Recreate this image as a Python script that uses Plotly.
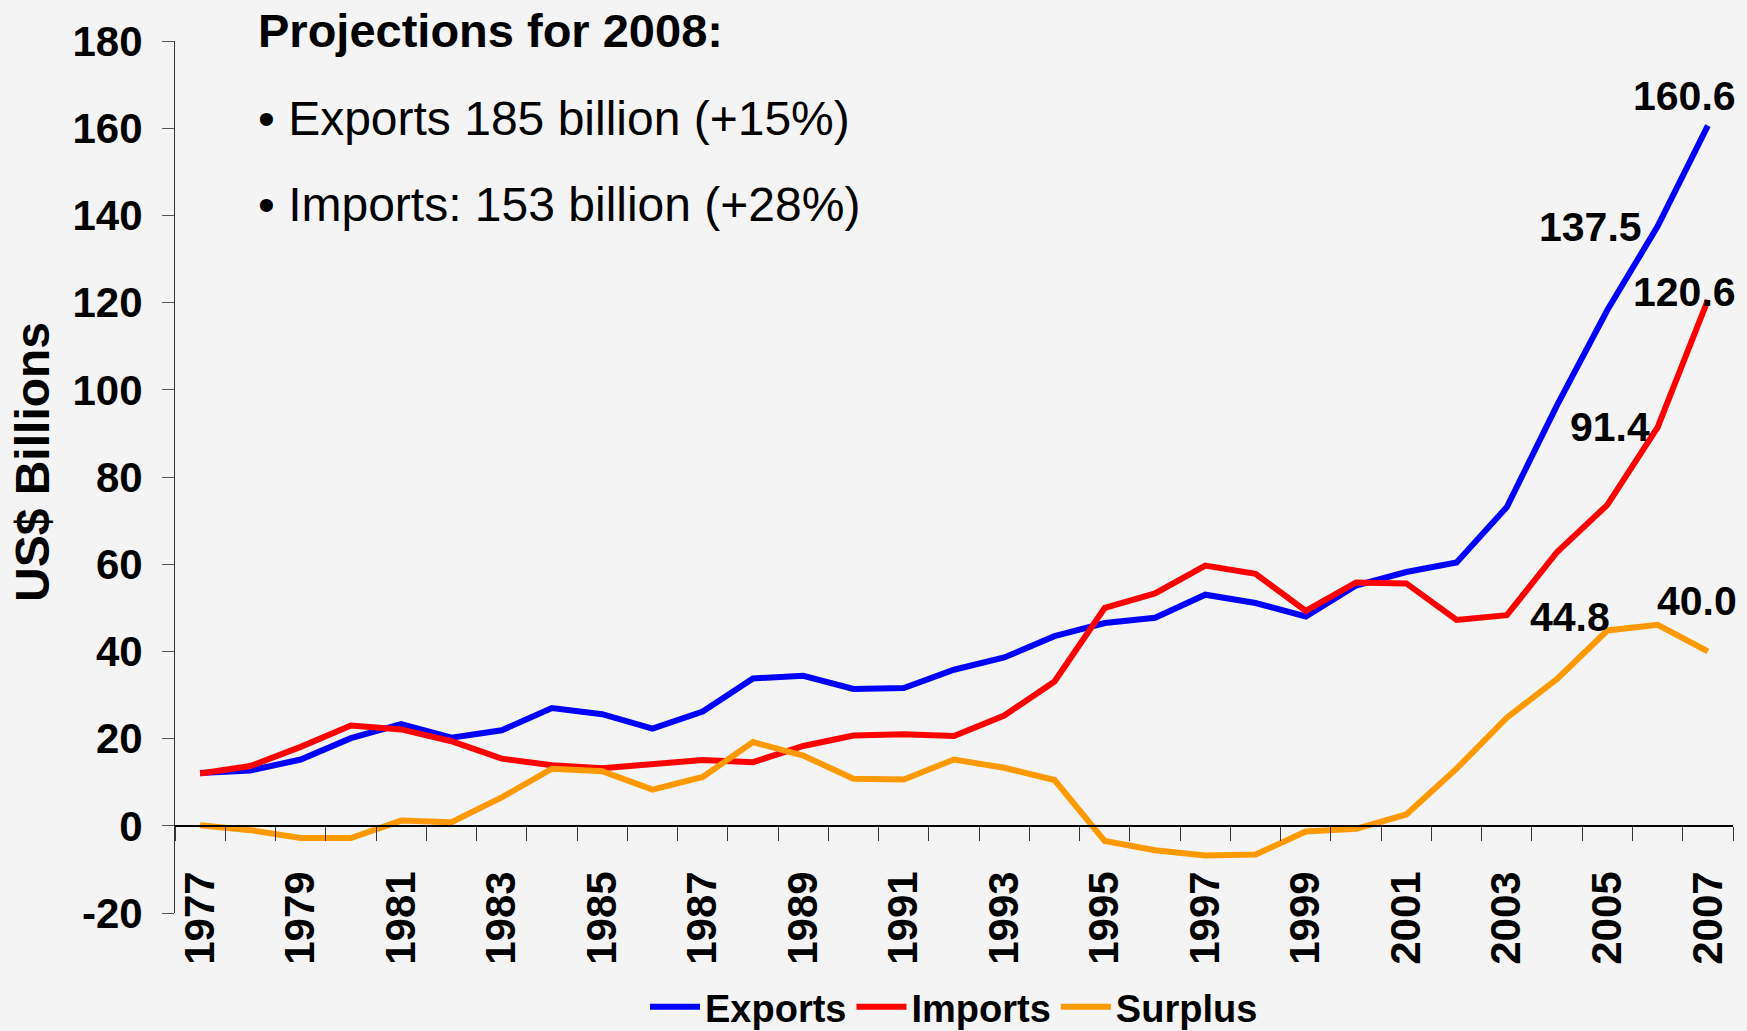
import plotly.graph_objects as go

years = list(range(1977, 2008))
exports = [12.1, 12.7, 15.2, 20.1, 23.3, 20.2, 21.9, 27.0, 25.6, 22.3, 26.2, 33.8, 34.4, 31.4, 31.6,
           35.8, 38.6, 43.5, 46.5, 47.7, 53.0, 51.1, 48.0, 55.1, 58.2, 60.4, 73.1, 96.5, 118.3, 137.5, 160.6]
imports = [12.0, 13.7, 18.1, 23.0, 22.1, 19.4, 15.4, 13.9, 13.2, 14.0, 15.1, 14.6, 18.3, 20.7, 21.0,
           20.6, 25.3, 33.1, 50.0, 53.3, 59.7, 57.8, 49.3, 55.8, 55.6, 47.2, 48.3, 62.8, 73.6, 91.4, 120.6]
surplus = [0.1, -1.0, -2.8, -2.8, 1.2, 0.8, 6.5, 13.1, 12.5, 8.3, 11.2, 19.2, 16.1, 10.8, 10.6,
           15.2, 13.3, 10.5, -3.5, -5.6, -6.8, -6.6, -1.3, -0.7, 2.6, 13.1, 24.8, 33.7, 44.8, 46.1, 40.0]

series_names = ["Exports", "Imports", "Surplus"]
series_colors = ["#0000FF", "#FF0000", "#FF9900"]

y_ticks = [-20, 0, 20, 40, 60, 80, 100, 120, 140, 160, 180]

# labelled points: (series, year, xshift, yshift)
labels = [("Exports", 2007, -23, 30), ("Exports", 2006, -67, -1),
          ("Imports", 2007, -23, 8), ("Imports", 2006, -48, 0),
          ("Surplus", 2005, -37, 13), ("Surplus", 2007, -11, 50)]

proj_title = "Projections for 2008:"
proj_lines = ["• Exports 185 billion (+15%)", "• Imports: 153 billion (+28%)"]

W, H = 1747, 1031
L, R, T, B = 175, 14, 41, 118
PW, PH = W - L - R, H - T - B
YMIN, YMAX = y_ticks[0], y_ticks[-1]

def px_x(p):
    return (p - L) / PW

def px_y(p):
    return (H - B - p) / PH

FONT = "Liberation Sans, Arial, sans-serif"
data = {"Exports": exports, "Imports": imports, "Surplus": surplus}

fig = go.Figure()
for name, color in zip(series_names, series_colors):
    fig.add_trace(go.Scatter(x=years, y=data[name], mode="lines", name=name,
                             line=dict(color=color, width=6)))

for name, yr, dx, dy in labels:
    v = data[name][years.index(yr)]
    fig.add_annotation(x=yr, y=v, text=f"<b>{v:.1f}</b>", showarrow=False,
                       xshift=dx, yshift=dy, font=dict(family=FONT, size=41, color="black"))

fig.add_annotation(xref="paper", yref="paper", x=px_x(256), y=px_y(31), xanchor="left", yanchor="middle",
                   text=f"<b>{proj_title}</b>", showarrow=False,
                   font=dict(family=FONT, size=47, color="black"))
for txt, ypx in zip(proj_lines, [118, 205]):
    fig.add_annotation(xref="paper", yref="paper", x=px_x(256), y=px_y(ypx), xanchor="left", yanchor="middle",
                       text=txt, showarrow=False, font=dict(family=FONT, size=48, color="black"))

fig.add_annotation(xref="paper", yref="paper", x=px_x(33), y=px_y(462), textangle=-90,
                   xanchor="center", yanchor="middle",
                   text="<b>US$ Billions</b>", showarrow=False,
                   font=dict(family=FONT, size=48, color="black"))

odd_years = years[::2]
bounds = [y - 0.5 for y in years] + [years[-1] + 0.5]

fig.update_layout(
    width=W, height=H,
    margin=dict(l=L, r=R, t=T, b=B, autoexpand=False),
    paper_bgcolor="#f4f4f4", plot_bgcolor="#f4f4f4",
    showlegend=True,
    legend=dict(orientation="h", x=0.5, xanchor="center", yref="container",
                y=(H - 1007) / H, yanchor="middle",
                font=dict(family=FONT, size=38, color="black", weight="bold"),
                bgcolor="rgba(0,0,0,0)", itemwidth=50, tracegroupgap=0),
    xaxis=dict(range=[years[0] - 0.5, years[-1] + 0.5], anchor="free",
               position=(0 - YMIN) / (YMAX - YMIN),
               showline=True, linecolor="black", linewidth=1.5, showgrid=False, zeroline=False,
               tickmode="array", tickvals=odd_years, ticktext=[str(y) for y in odd_years],
               ticks="outside", ticklen=14, tickcolor="rgba(0,0,0,0)", tickangle=-90,
               ticklabelstandoff=14,
               tickfont=dict(family=FONT, size=42, color="black", weight="bold"),
               minor=dict(tickmode="array", tickvals=bounds, ticks="outside", ticklen=14,
                          tickcolor="#333", tickwidth=1, showgrid=False)),
    yaxis=dict(range=[YMIN, YMAX], tickmode="array", tickvals=y_ticks,
               ticktext=[str(v) for v in y_ticks],
               showline=True, linecolor="#333", linewidth=1,
               showgrid=False, zeroline=False, ticks="outside", ticklen=12, tickcolor="#555",
               ticklabelstandoff=11,
               tickfont=dict(family=FONT, size=42, color="black", weight="bold")),
)

fig.write_html("out.html")
